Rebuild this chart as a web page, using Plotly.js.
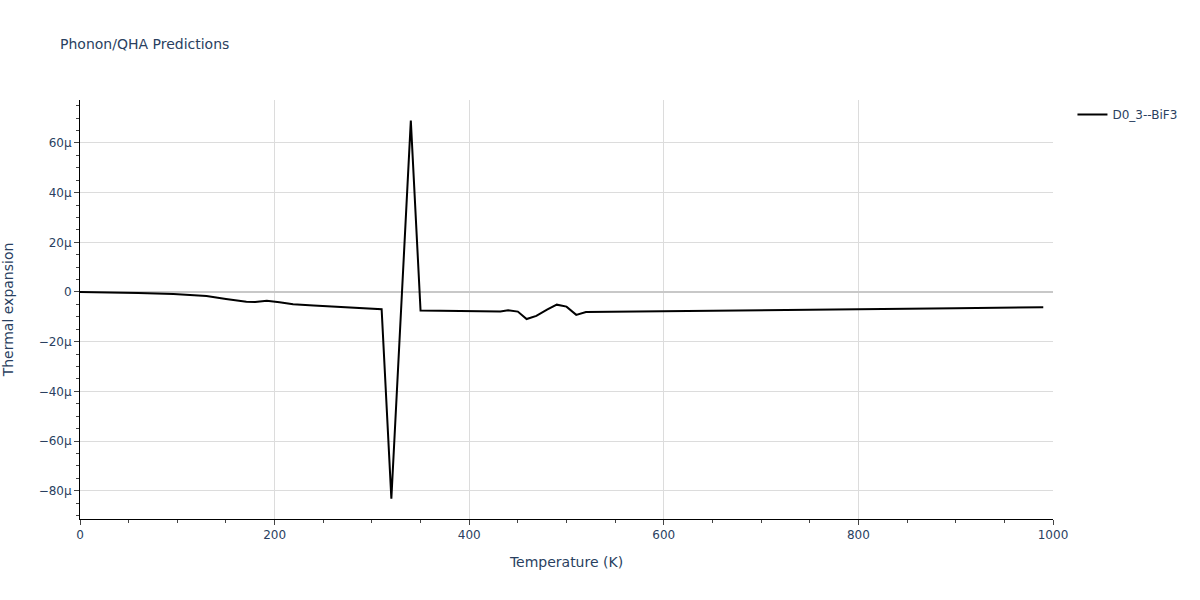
<!DOCTYPE html>
<html>
<head>
<meta charset="utf-8">
<script src="https://cdn.plot.ly/plotly-3.0.1.min.js"></script>
<style>html,body{margin:0;padding:0;background:#fff;}#chart{width:1200px;height:600px;}</style>
</head>
<body>
<div id="chart"></div>
<script>
const seriesName = "D0_3--BiF3";
const temperature = [0, 30, 60, 96, 110, 120, 130, 150, 171, 180, 192, 205, 219, 240, 270, 298, 310, 320, 330, 340, 350, 380, 410, 432, 440, 450, 459, 469, 480, 490, 500, 510, 520, 540, 600, 700, 800, 900, 990];
const thermalExpansion = [0, -0.05e-6, -0.4e-6, -0.8e-6, -1.2e-6, -1.6e-6, -1.65e-6, -2.8e-6, -3.9e-6, -4.0e-6, -3.5e-6, -4.1e-6, -4.9e-6, -5.4e-6, -6.0e-6, -6.7e-6, -6.9e-6, -83.2e-6, -7.0e-6, 69.0e-6, -7.5e-6, -7.6e-6, -7.8e-6, -7.9e-6, -7.4e-6, -7.9e-6, -10.9e-6, -9.6e-6, -7.1e-6, -5.1e-6, -5.9e-6, -9.2e-6, -8.1e-6, -8.0e-6, -7.8e-6, -7.4e-6, -6.9e-6, -6.5e-6, -6.1e-6];

const trace = {
  x: temperature,
  y: thermalExpansion,
  type: "scatter",
  mode: "lines",
  name: seriesName,
  line: {color: "#000000", width: 2},
  showlegend: true
};

const axisCommon = {
  showline: true,
  linecolor: "#000000",
  linewidth: 1,
  ticks: "outside",
  tickcolor: "#444",
  ticklen: 5,
  gridcolor: "#dcdcdc",
  zeroline: true,
  zerolinecolor: "#c8c8c8",
  zerolinewidth: 2,
  tickfont: {size: 12, color: "#2a3f5f"},
  minor: {ticks: "outside", ticklen: 3, tickcolor: "#444", showgrid: false}
};

const layout = {
  width: 1200,
  height: 600,
  paper_bgcolor: "#ffffff",
  plot_bgcolor: "#ffffff",
  font: {family: "DejaVu Sans, sans-serif", color: "#2a3f5f", size: 12},
  title: {text: "Phonon/QHA Predictions", x: 0.05, xanchor: "left", y: 0.935, font: {size: 14, color: "#2a3f5f"}},
  margin: {l: 80, r: 147, t: 100, b: 81},
  xaxis: Object.assign({}, axisCommon, {
    title: {text: "Temperature (K)", font: {size: 14, color: "#2a3f5f"}, standoff: 15},
    range: [0, 1000],
    dtick: 200,
    minor: {ticks: "outside", ticklen: 3, tickcolor: "#444", dtick: 50, showgrid: false}
  }),
  yaxis: Object.assign({}, axisCommon, {
    title: {text: "Thermal expansion", font: {size: 14, color: "#2a3f5f"}, standoff: 30},
    range: [-91.4e-6, 77.3e-6],
    dtick: 20e-6,
    minor: {ticks: "outside", ticklen: 3, tickcolor: "#444", dtick: 5e-6, showgrid: false}
  }),
  legend: {x: 1.02, y: 1, font: {size: 12, color: "#2a3f5f"}},
  showlegend: true
};

Plotly.newPlot("chart", [trace], layout, {displayModeBar: false});
</script>
</body>
</html>
